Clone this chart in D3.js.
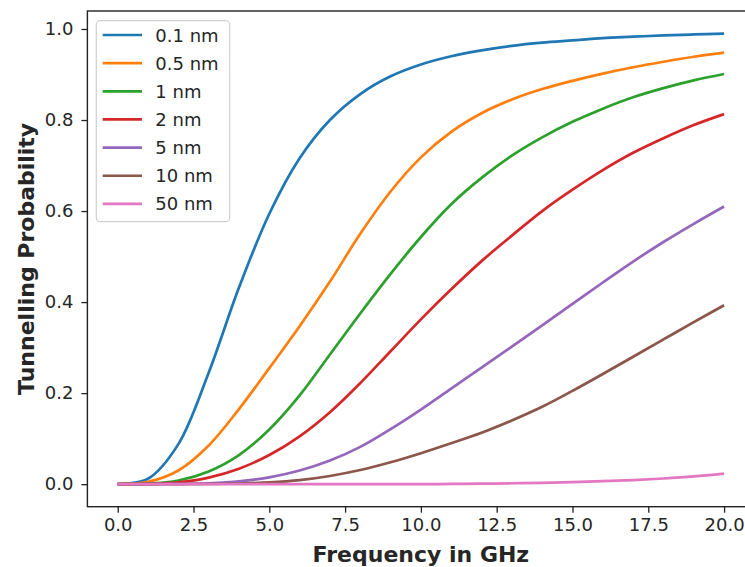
<!DOCTYPE html>
<html>
<head>
<meta charset="utf-8">
<script src="https://cdn.jsdelivr.net/npm/d3@7"></script>
<style>
  html, body { margin: 0; padding: 0; background: #ffffff; }
  svg { display: block; }
  text { font-family: "DejaVu Sans", sans-serif; fill: #262626; }
</style>
</head>
<body>
<svg id="chart" width="745" height="567"></svg>
<script>
// Frequency samples (GHz)
const frequencies = [0,1,2,3,4,5,6,7,8,9,10,11,12,13,14,15,16,17,18,19,20];

// Barrier widths shown in the legend
const widthLabels = ["0.1 nm","0.5 nm","1 nm","2 nm","5 nm","10 nm","50 nm"];

// Tunnelling probability for each barrier width, one value per frequency
const p_0_1nm = [0,0.012,0.088,0.245,0.432,0.594,0.716,0.8,0.857,0.896,0.922,0.94,0.953,0.963,0.97,0.975,0.98,0.983,0.986,0.988,0.99];
const p_0_5nm = [0,0.005,0.03,0.085,0.165,0.255,0.347,0.445,0.55,0.643,0.718,0.774,0.815,0.845,0.868,0.886,0.902,0.916,0.928,0.939,0.948];
const p_1nm   = [0,0.001,0.008,0.028,0.064,0.12,0.195,0.285,0.375,0.462,0.543,0.615,0.673,0.722,0.762,0.796,0.825,0.85,0.87,0.887,0.901];
const p_2nm   = [0,0.0005,0.004,0.0145,0.034,0.064,0.105,0.158,0.222,0.292,0.362,0.428,0.49,0.546,0.6,0.647,0.69,0.728,0.76,0.789,0.813];
const p_5nm   = [0,0,0.0005,0.002,0.006,0.015,0.03,0.052,0.082,0.121,0.164,0.21,0.256,0.302,0.349,0.396,0.443,0.489,0.532,0.572,0.61];
const p_10nm  = [0,0,0,0.0005,0.0015,0.004,0.009,0.018,0.031,0.048,0.068,0.09,0.113,0.14,0.17,0.205,0.242,0.28,0.318,0.356,0.393];
const p_50nm  = [0,0,0,0,0,0,0,0,0,0,0,0.0005,0.001,0.002,0.003,0.0045,0.0065,0.009,0.0125,0.017,0.023];

const seriesValues = [p_0_1nm, p_0_5nm, p_1nm, p_2nm, p_5nm, p_10nm, p_50nm];
const seriesColors = ["#1f77b4","#ff7f0e","#2ca02c","#d62728","#9467bd","#8c564b","#e377c2"];

// Axis ticks
const xTicks = [0, 2.5, 5, 7.5, 10, 12.5, 15, 17.5, 20];
const yTicks = [0, 0.2, 0.4, 0.6, 0.8, 1.0];

const svg = d3.select("#chart");

const plot = { left: 87.4, right: 754.4, top: 11, bottom: 506.7 };

const x = d3.scaleLinear().domain([-1, 21]).range([plot.left, plot.right]);
const y = d3.scaleLinear().domain([-0.0495, 1.0395]).range([plot.bottom, plot.top]);

// Curves
const line = d3.line()
  .x(d => x(d[0]))
  .y(d => y(d[1]))
  .curve(d3.curveCatmullRom.alpha(0.5));

const lines = svg.append("g");
seriesValues.forEach((vals, i) => {
  lines.append("path")
    .datum(frequencies.map((f, k) => [f, vals[k]]))
    .attr("fill", "none")
    .attr("stroke", seriesColors[i])
    .attr("stroke-width", 2.7)
    .attr("stroke-linejoin", "round")
    .attr("stroke-linecap", "butt")
    .attr("d", line);
});

// Axes
const xAxis = d3.axisBottom(x)
  .tickValues(xTicks)
  .tickFormat(d3.format(".1f"))
  .tickSize(6)
  .tickPadding(6);
const yAxis = d3.axisLeft(y)
  .tickValues(yTicks)
  .tickFormat(d3.format(".1f"))
  .tickSize(6)
  .tickPadding(8);

const gx = svg.append("g").attr("transform", `translate(0,${plot.bottom})`).call(xAxis);
const gy = svg.append("g").attr("transform", `translate(${plot.left},0)`).call(yAxis);

[gx, gy].forEach(g => {
  g.select(".domain").remove();
  g.selectAll(".tick line").attr("stroke", "#222").attr("stroke-width", 1.3);
  g.selectAll(".tick text")
    .attr("font-family", "DejaVu Sans, sans-serif")
    .attr("font-size", 18)
    .attr("fill", "#262626");
});

// Frame (spines)
svg.append("rect")
  .attr("x", plot.left)
  .attr("y", plot.top)
  .attr("width", plot.right - plot.left)
  .attr("height", plot.bottom - plot.top)
  .attr("fill", "none")
  .attr("stroke", "#222")
  .attr("stroke-width", 1.4);

// Axis titles
svg.append("text")
  .attr("x", (plot.left + plot.right) / 2)
  .attr("y", 561.5)
  .attr("text-anchor", "middle")
  .attr("font-size", 22)
  .attr("font-weight", "bold")
  .attr("fill", "#000")
  .text("Frequency in GHz");

svg.append("text")
  .attr("transform", `translate(33.5,${(plot.top + plot.bottom) / 2}) rotate(-90)`)
  .attr("text-anchor", "middle")
  .attr("font-size", 22)
  .attr("font-weight", "bold")
  .attr("fill", "#000")
  .text("Tunnelling Probability");

// Legend
const legend = svg.append("g");
legend.append("rect")
  .attr("x", 96.3)
  .attr("y", 20.7)
  .attr("width", 133.4)
  .attr("height", 201)
  .attr("rx", 4)
  .attr("fill", "#ffffff")
  .attr("fill-opacity", 0.8)
  .attr("stroke", "#d0d0d0")
  .attr("stroke-width", 1.2);

widthLabels.forEach((label, i) => {
  const cy = 35 + i * 28.15;
  legend.append("line")
    .attr("x1", 102.7).attr("x2", 142)
    .attr("y1", cy).attr("y2", cy)
    .attr("stroke", seriesColors[i])
    .attr("stroke-width", 2.7);
  legend.append("text")
    .attr("x", 155.3)
    .attr("y", cy + 6.5)
    .attr("font-size", 18)
    .attr("fill", "#262626")
    .text(label);
});
</script>
</body>
</html>
